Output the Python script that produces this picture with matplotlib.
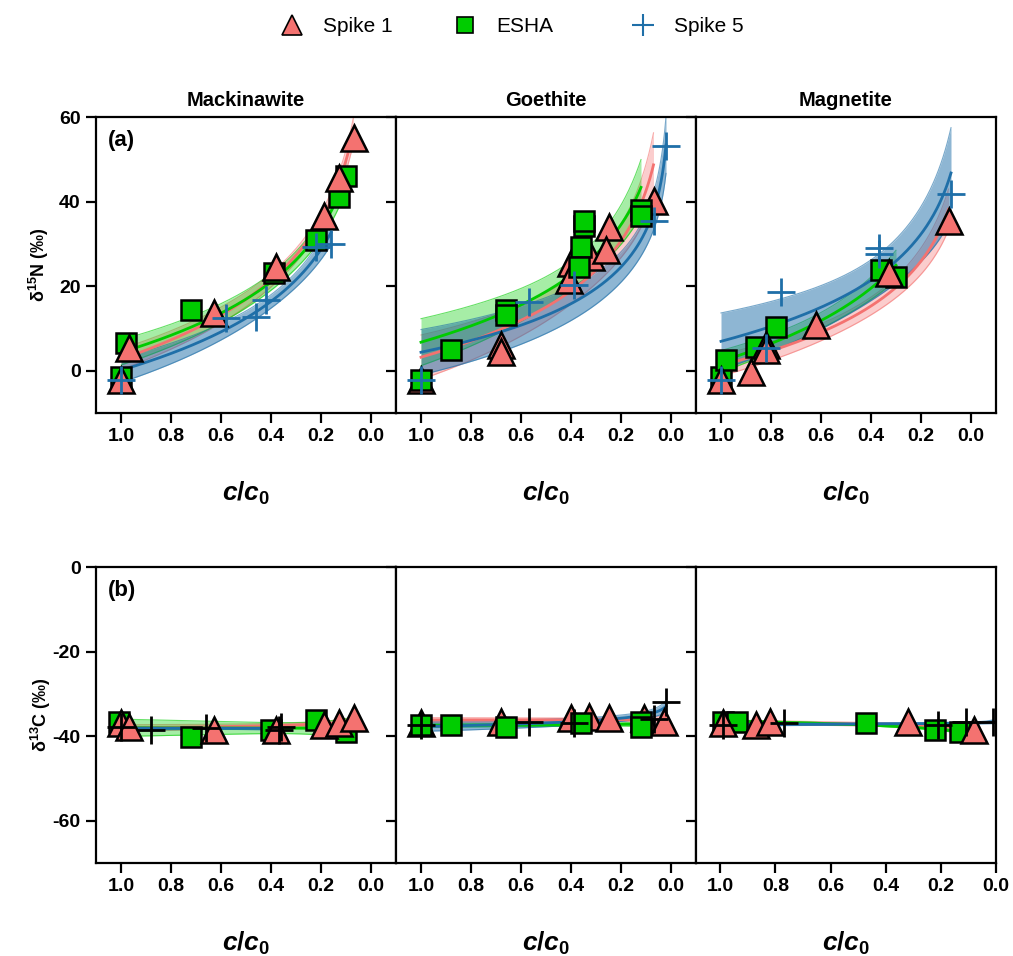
import numpy as np
import matplotlib
matplotlib.use("Agg")
from matplotlib import pyplot as plt
from matplotlib.lines import Line2D

plt.rcParams['font.family'] = ['Liberation Sans', 'DejaVu Sans']
plt.rcParams['mathtext.fontset'] = 'custom'
plt.rcParams['mathtext.rm'] = 'Liberation Sans:bold'
plt.rcParams['mathtext.it'] = 'Liberation Sans:italic:bold'
plt.rcParams['mathtext.bf'] = 'Liberation Sans:bold'
plt.rcParams['axes.unicode_minus'] = False

minerals = ["Mackinawite", "Goethite", "Magnetite"]

# ---- delta 15N, panel (a) ----
n_spike1_f = [[1.0, 0.97, 0.63, 0.38, 0.19, 0.13, 0.07],
              [1.0, 0.68, 0.68, 0.40, 0.41, 0.32, 0.25, 0.26, 0.07],
              [1.0, 0.88, 0.82, 0.82, 0.62, 0.33, 0.09]]
n_spike1_d = [[-2.1, 5.4, 13.6, 24.5, 36.7, 45.6, 55.0],
              [-2.1, 6.0, 4.5, 25.4, 21.4, 26.8, 33.9, 28.5, 40.2],
              [-2.1, -0.2, 6.1, 5.0, 10.8, 23.0, 35.5]]
n_esha_f = [[1.0, 0.98, 0.72, 0.39, 0.22, 0.13, 0.10],
            [1.0, 0.88, 0.66, 0.66, 0.35, 0.35, 0.36, 0.37, 0.12, 0.12],
            [1.0, 0.98, 0.86, 0.78, 0.36, 0.30]]
n_esha_d = [[-1.6, 6.6, 14.4, 23.0, 30.8, 41.0, 46.0],
            [-2.1, 4.9, 14.3, 13.2, 34.3, 35.5, 29.2, 24.5, 38.0, 36.5],
            [-1.4, 2.6, 5.6, 10.4, 23.8, 22.2]]
n_spike5_f = [[1.0, 0.58, 0.46, 0.42, 0.22, 0.16],
              [1.0, 0.57, 0.39, 0.07, 0.02],
              [1.0, 0.82, 0.76, 0.37, 0.37, 0.08]]
n_spike5_d = [[-2.1, 12.5, 12.7, 16.7, 29.2, 30.0],
              [-2.1, 16.2, 20.2, 35.5, 53.2],
              [-2.1, 5.4, 18.6, 29.0, 27.5, 41.9]]

# ---- delta 13C, panel (b) ----
c_spike1_f = [[1.0, 0.97, 0.63, 0.38, 0.19, 0.13, 0.07],
              [1.0, 0.68, 0.40, 0.33, 0.25, 0.11, 0.03],
              [0.99, 0.87, 0.82, 0.32, 0.08]]
c_spike1_d = [[-36.9, -37.8, -38.5, -38.5, -37.4, -36.9, -35.7],
              [-36.9, -36.6, -35.7, -35.5, -35.7, -35.7, -36.6],
              [-36.9, -37.4, -36.6, -36.6, -38.5]]
c_esha_f = [[1.01, 0.72, 0.40, 0.22, 0.10],
            [1.0, 0.88, 0.66, 0.36, 0.12, 0.12],
            [0.99, 0.94, 0.47, 0.22, 0.13]]
c_esha_d = [[-36.6, -40.2, -38.5, -36.2, -39.0],
            [-37.4, -37.4, -37.8, -36.9, -36.6, -37.8],
            [-36.6, -36.6, -36.9, -38.5, -39.0]]
c_spike5_f = [[1.0, 0.88, 0.66, 0.37, 0.36],
              [1.0, 0.57, 0.39, 0.07, 0.02],
              [0.99, 0.77, 0.21, 0.11, 0.01]]
c_spike5_d = [[-37.8, -38.5, -38.1, -38.5, -37.8],
              [-37.4, -36.6, -36.9, -36.0, -31.9],
              [-37.4, -36.9, -37.4, -36.6, -36.6]]

red = '#F47270'
green = '#00CC00'
blue = '#1F6FA8'


def rayleigh_fit(ax, f, d, color, band_alpha, k=1.5):
    # least squares of delta against ln(f), band = k standard errors of the mean
    f = np.asarray(f)
    d = np.asarray(d)
    L = np.log(f)
    b, a = np.polyfit(L, d, 1)
    resid = d - (a + b * L)
    n = len(f)
    s = np.sqrt(np.sum(resid ** 2) / (n - 2))
    sxx = np.sum((L - L.mean()) ** 2)
    fx = np.linspace(1.0, f.min(), 200)
    lx = np.log(fx)
    yhat = a + b * lx
    half = k * s * np.sqrt(1.0 / n + (lx - L.mean()) ** 2 / sxx)
    ax.fill_between(fx, yhat - half, yhat + half, color=color,
                    alpha=band_alpha, lw=0, zorder=1)
    ax.plot(fx, yhat - half, color=color, lw=0.8, alpha=0.6, zorder=1)
    ax.plot(fx, yhat + half, color=color, lw=0.8, alpha=0.6, zorder=1)
    ax.plot(fx, yhat, color=color, lw=2, zorder=2)


fig = plt.figure(figsize=(10.13, 9.56), dpi=100)

left0 = 96 / 1013
w = 300 / 1013
h = 296 / 956
bottoms = [1 - 413 / 956, 1 - 863 / 956]
tri_on_top = [True, False, True]

rows = [
    (n_spike1_f, n_spike1_d, n_esha_f, n_esha_d, n_spike5_f, n_spike5_d),
    (c_spike1_f, c_spike1_d, c_esha_f, c_esha_d, c_spike5_f, c_spike5_d),
]

for r, data in enumerate(rows):
    s1f, s1d, ef, ed, s5f, s5d = data
    for c in range(3):
        ax = fig.add_axes([left0 + c * w, bottoms[r], w, h])
        rayleigh_fit(ax, s1f[c], s1d[c], red, 0.35)
        rayleigh_fit(ax, ef[c], ed[c], green, 0.35)
        rayleigh_fit(ax, s5f[c], s5d[c], blue, 0.5)

        z_tri, z_sq = (5, 4) if tri_on_top[c] else (4, 5)
        ax.plot(s1f[c], s1d[c], ls='none', marker='^', ms=19,
                mfc=red, mec='black', mew=1.8, zorder=z_tri)
        ax.plot(ef[c], ed[c], ls='none', marker='s', ms=14,
                mfc=green, mec='black', mew=1.8, zorder=z_sq)
        plus_col = blue if r == 0 else 'black'
        ax.plot(s5f[c], s5d[c], ls='none', marker='+', ms=20,
                mew=2, color=plus_col, zorder=6)

        if r == 0:
            ax.set_ylim(-10, 60)
            ax.set_yticks([0, 20, 40, 60])
            ax.set_title(minerals[c], fontsize=14.5, fontweight='bold', pad=8)
        else:
            ax.set_ylim(-70, 0)
            ax.set_yticks([0, -20, -40, -60])

        if r == 1 and c == 2:
            ax.set_xlim(1.088, 0.0)
        else:
            ax.set_xlim(1.1, -0.1)
        ax.set_xticks([1.0, 0.8, 0.6, 0.4, 0.2, 0.0])
        ax.set_xticklabels(['1.0', '0.8', '0.6', '0.4', '0.2', '0.0'])

        for sp in ax.spines.values():
            sp.set_linewidth(1.6)
        ax.tick_params(direction='out', length=7, width=1.6,
                       labelsize=14, pad=4)
        for lab in ax.get_xticklabels() + ax.get_yticklabels():
            lab.set_fontweight('bold')
        if c > 0:
            ax.tick_params(axis='y', labelleft=False)

        ax.set_xlabel(r'$c/c_{\mathit{0}}$', fontsize=19, labelpad=25)

        if c == 0:
            if r == 0:
                ax.set_ylabel(r'δ$^{15}$N (‰)', fontsize=13,
                              fontweight='bold', labelpad=6)
                ax.text(0.04, 0.955, '(a)', transform=ax.transAxes,
                        fontsize=16, fontweight='bold', va='top')
            else:
                ax.set_ylabel(r'δ$^{13}$C (‰)', fontsize=13,
                              fontweight='bold', labelpad=0)
                ax.text(0.04, 0.955, '(b)', transform=ax.transAxes,
                        fontsize=16, fontweight='bold', va='top')

# legend: one entry per box so the three keys sit evenly spaced
legend_items = [
    (Line2D([], [], ls='none', marker='^', ms=15, mfc=red, mec='black', mew=1.2),
     'Spike 1', 271),
    (Line2D([], [], ls='none', marker='s', ms=12, mfc=green, mec='black', mew=1.2),
     'ESHA', 444),
    (Line2D([], [], ls='none', marker='+', ms=16, mew=1.5, color=blue),
     'Spike 5', 622),
]
for handle, label, xpix in legend_items:
    fig.legend([handle], [label], loc='center left',
               bbox_to_anchor=(xpix / 1013, 1 - 27 / 956), frameon=False,
               fontsize=15, handlelength=2.0, handletextpad=0.5,
               borderpad=0, borderaxespad=0)

fig.savefig('out.png', dpi=100)
